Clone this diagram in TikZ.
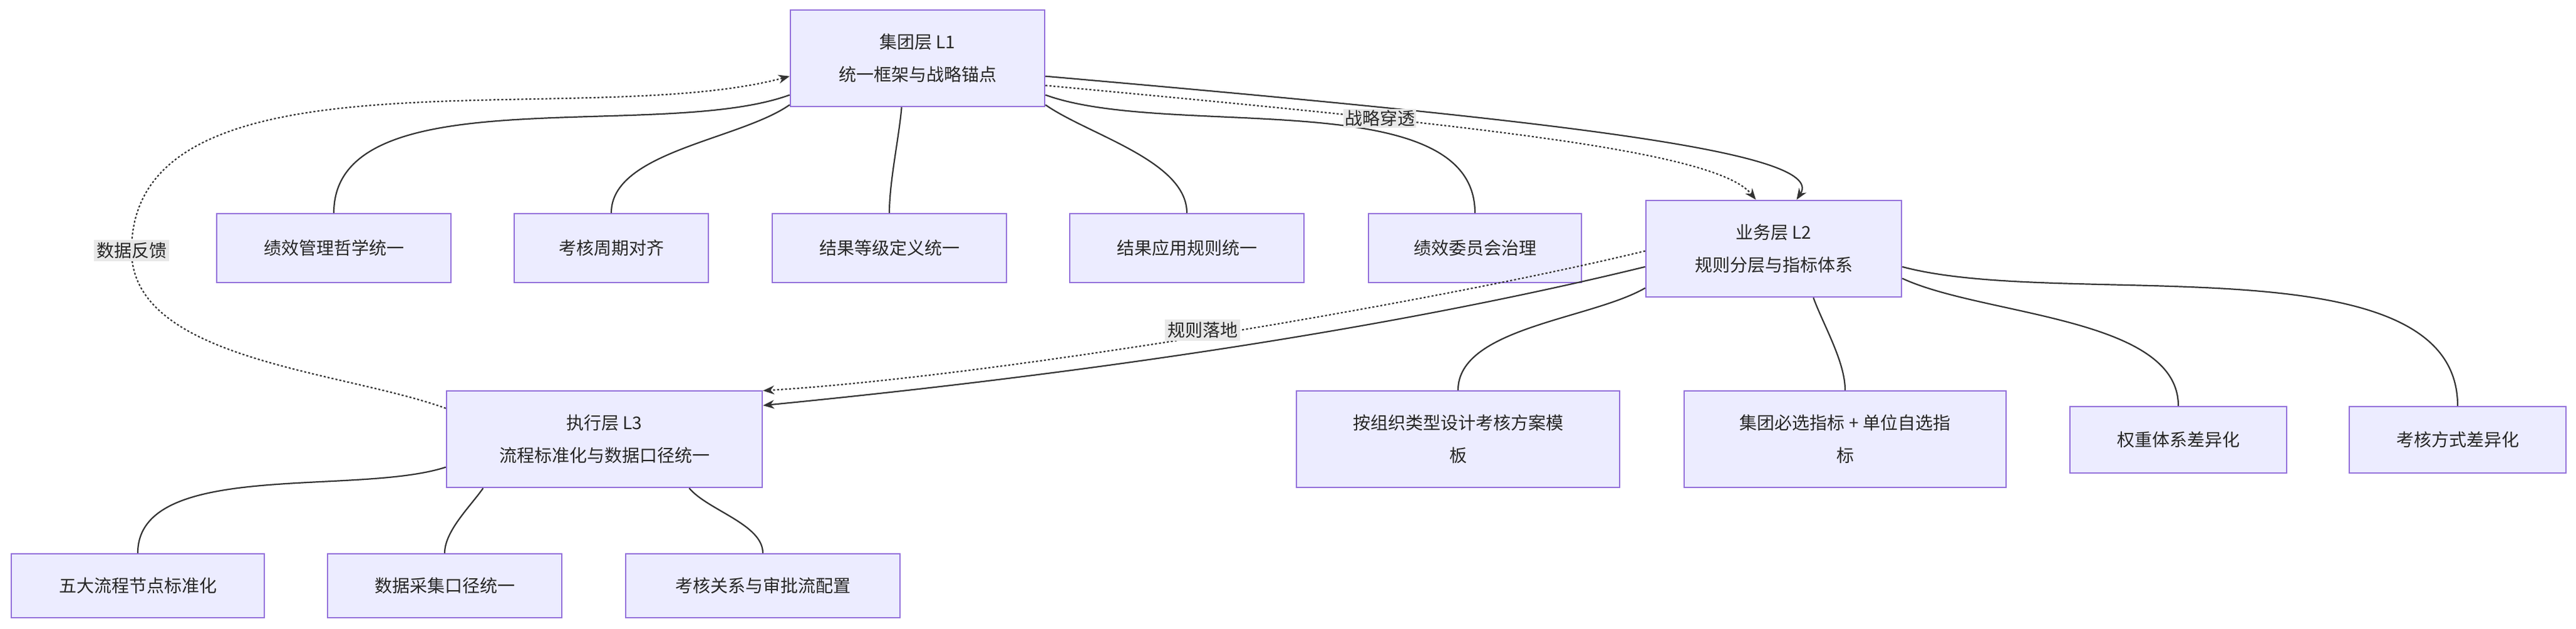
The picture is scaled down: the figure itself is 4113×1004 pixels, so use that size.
\documentclass[tikz,border=0pt]{standalone}
\usepackage{fontspec}
\setmainfont{Noto Sans CJK SC}
\usetikzlibrary{arrows.meta}
\definecolor{nfill}{HTML}{ECECFF}
\definecolor{nline}{HTML}{9370DB}
\definecolor{eline}{HTML}{333333}
\definecolor{lbg}{HTML}{E8E8E8}
\begin{document}
\begin{tikzpicture}[x=0.5pt,y=0.5pt,
  box/.style={draw=nline,fill=nfill,line width=1.2pt,align=center,inner sep=0pt,font=\fontsize{14}{26}\selectfont,text=black!85},
  e/.style={draw=eline,line width=1.1pt},
  arr/.style={-{Stealth[length=9pt,width=7pt]}},
  dot/.style={dash pattern=on 1.6pt off 1.6pt},
  lab/.style={fill=lbg,font=\fontsize{14}{16}\selectfont,text=black!85,inner sep=2pt},
  c/.style={looseness=0.75}]
\useasboundingbox (0,0) rectangle (4113,-1004);
\fill[white] (0,0) rectangle (4113,-1004);
% nodes
\node[box,minimum width=203pt,minimum height=77pt] (L1) at (1465,-93) {集团层 L1\\统一框架与战略锚点};
\node[box,minimum width=187pt,minimum height=55pt] (p1) at (533,-396) {绩效管理哲学统一};
\node[box,minimum width=155pt,minimum height=55pt] (p2) at (976,-396) {考核周期对齐};
\node[box,minimum width=187pt,minimum height=55pt] (p3) at (1420,-396) {结果等级定义统一};
\node[box,minimum width=187pt,minimum height=55pt] (p4) at (1895,-396) {结果应用规则统一};
\node[box,minimum width=170pt,minimum height=55pt] (p5) at (2355,-396) {绩效委员会治理};
\node[box,minimum width=204pt,minimum height=77pt] (L2) at (2832,-397) {业务层 L2\\规则分层与指标体系};
\node[box,minimum width=252pt,minimum height=77pt] (L3) at (965,-701) {执行层 L3\\流程标准化与数据口径统一};
\node[box,minimum width=258pt,minimum height=77pt] (b1) at (2328,-701) {按组织类型设计考核方案模\\板};
\node[box,minimum width=257pt,minimum height=77pt] (b2) at (2946,-701) {集团必选指标 + 单位自选指\\标};
\node[box,minimum width=173pt,minimum height=53pt] (b3) at (3478,-702) {权重体系差异化};
\node[box,minimum width=173pt,minimum height=53pt] (b4) at (3924,-702) {考核方式差异化};
\node[box,minimum width=202pt,minimum height=51pt] (c1) at (220,-935) {五大流程节点标准化};
\node[box,minimum width=187pt,minimum height=51pt] (c2) at (710,-935) {数据采集口径统一};
\node[box,minimum width=219pt,minimum height=51pt] (c3) at (1218,-935) {考核关系与审批流配置};
% L1 children
\draw[e,c] (L1.196) to[out=200,in=90] (p1.north);
\draw[e,c] (L1.200) to[out=215,in=90] (p2.north);
\draw[e,c] (L1.252) to[out=265,in=90] (p3.north);
\draw[e,c] (L1.-20) to[out=-35,in=90] (p4.north);
\draw[e,c] (L1.-16) to[out=-20,in=90] (p5.north);
% L1 -> L2
\draw[e,arr] (L1.-8) .. controls (2450,-190) and (2920,-240) .. (L2.65);
\coordinate (sp) at (2203,-189);
\draw[e,dot,arr] (L1.-12) .. controls (2350,-200) and (2740,-240) .. (L2.110);
\node[lab,inner sep=1pt] at (sp) {战略穿透};
% L2 -> L3
\draw[e,arr] (L2.188) .. controls (2200,-530) and (1700,-600) .. (L3.12);
\draw[e,dot,arr] (L2.181) .. controls (2300,-480) and (1600,-600) .. (L3.17);
\node[lab] at (1920,-527) {规则落地};
% L3 -> L1 feedback
\coordinate (fb) at (210,-400);
\draw[e,dot] (L3.169) to[out=160,in=-90,looseness=0.8] (fb);
\draw[e,dot,arr] (fb) to[out=90,in=195,looseness=0.8] (L1.188);
\node[lab] at (fb) {数据反馈};
% L2 children
\draw[e,c] (L2.197) to[out=210,in=90] (b1.north);
\draw[e,c] (L2.-51) to[out=-70,in=90] (b2.north);
\draw[e,c] (L2.-13) to[out=-25,in=90] (b3.north);
\draw[e,c] (L2.-8) to[out=-15,in=90] (b4.north);
% L3 children
\draw[e,c] (L3.190) to[out=198,in=90] (c1.north);
\draw[e,c] (L3.202) to[out=235,in=90] (c2.north);
\draw[e,c] (L3.-30) to[out=-50,in=90] (c3.north);
\end{tikzpicture}
\end{document}
